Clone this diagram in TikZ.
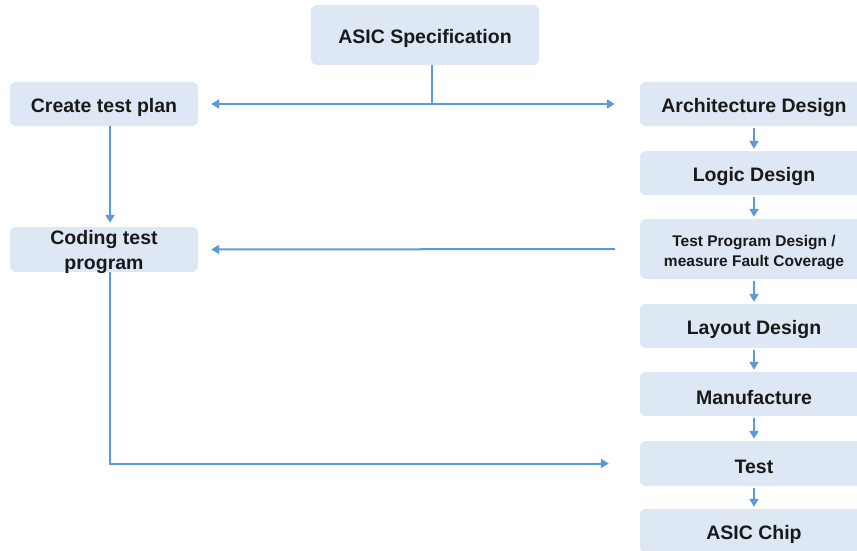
\documentclass[tikz,border=0pt]{standalone}
\usepackage{fontspec}
\setmainfont{Liberation Sans}
\usetikzlibrary{arrows.meta}
\definecolor{boxblue}{RGB}{222,232,245}
\definecolor{arrblue}{RGB}{91,155,213}
\tikzset{
  box/.style={rectangle, rounded corners=6pt, fill=boxblue, draw=none, inner sep=0pt},
  lbl/.style={align=center, text=black!90, inner sep=0pt, yshift=-3.5pt,
    font=\fontsize{19.5}{25}\selectfont\bfseries},
  small/.style={font=\fontsize{15.5}{20}\selectfont\bfseries},
  wide/.style={minimum width=228pt},
  narrow/.style={minimum width=188pt},
  conn/.style={draw=arrblue, line width=2pt},
  arr/.style={conn, -{Triangle[length=8pt,width=9pt]}},
  darr/.style={conn, {Triangle[length=8pt,width=9pt]}-{Triangle[length=8pt,width=9pt]}}
}
\begin{document}
\begin{tikzpicture}[x=1pt,y=-1pt]
\clip (0,0) rectangle (857,551);
\useasboundingbox (0,0) rectangle (857,551);
\node[box,wide,minimum height=60pt,label={[lbl]center:ASIC Specification}] (spec) at (425,35) {};
\node[box,narrow,minimum height=44pt,label={[lbl]center:Create test plan}] (ctp) at (104,104) {};
\node[box,narrow,minimum height=45pt,label={[lbl,yshift=1pt]center:Coding test\\program}] (coding) at (104,249.5) {};
\node[box,wide,minimum height=44pt,label={[lbl]center:Architecture Design}] (arch) at (754,104) {};
\node[box,wide,minimum height=44pt,label={[lbl]center:Logic Design}] (logic) at (754,173) {};
\node[box,wide,minimum height=60pt,label={[lbl,small]center:Test Program Design /\\measure Fault Coverage}] (tpd) at (754,249) {};
\node[box,wide,minimum height=44pt,label={[lbl]center:Layout Design}] (layout) at (754,326) {};
\node[box,wide,minimum height=44pt,label={[lbl]center:Manufacture}] (manu) at (754,394) {};
\node[box,wide,minimum height=45pt,label={[lbl]center:Test}] (test) at (754,463.5) {};
\node[box,wide,minimum height=44pt,label={[lbl]center:ASIC Chip}] (chip) at (754,531) {};
\coordinate (j) at (432,104);
\draw[conn] ([xshift=7pt]spec.south) -- (j);
\draw[darr, shorten <=13pt, shorten >=25pt] (ctp.east) -- (arch.west);
\draw[arr, shorten >=4pt] ([xshift=6pt]ctp.south) -- ([xshift=6pt]coding.north);
\draw[arr, shorten <=25pt, shorten >=13pt] (tpd.west) -- (coding.east);
\draw[arr, shorten >=31pt] ([xshift=6pt]coding.south) |- (test.west);
\foreach \a/\b in {arch/logic, logic/tpd, tpd/layout, layout/manu, manu/test, test/chip}
  \draw[arr, shorten <=2pt, shorten >=2pt] (\a.south) -- (\b.north);
\end{tikzpicture}
\end{document}
